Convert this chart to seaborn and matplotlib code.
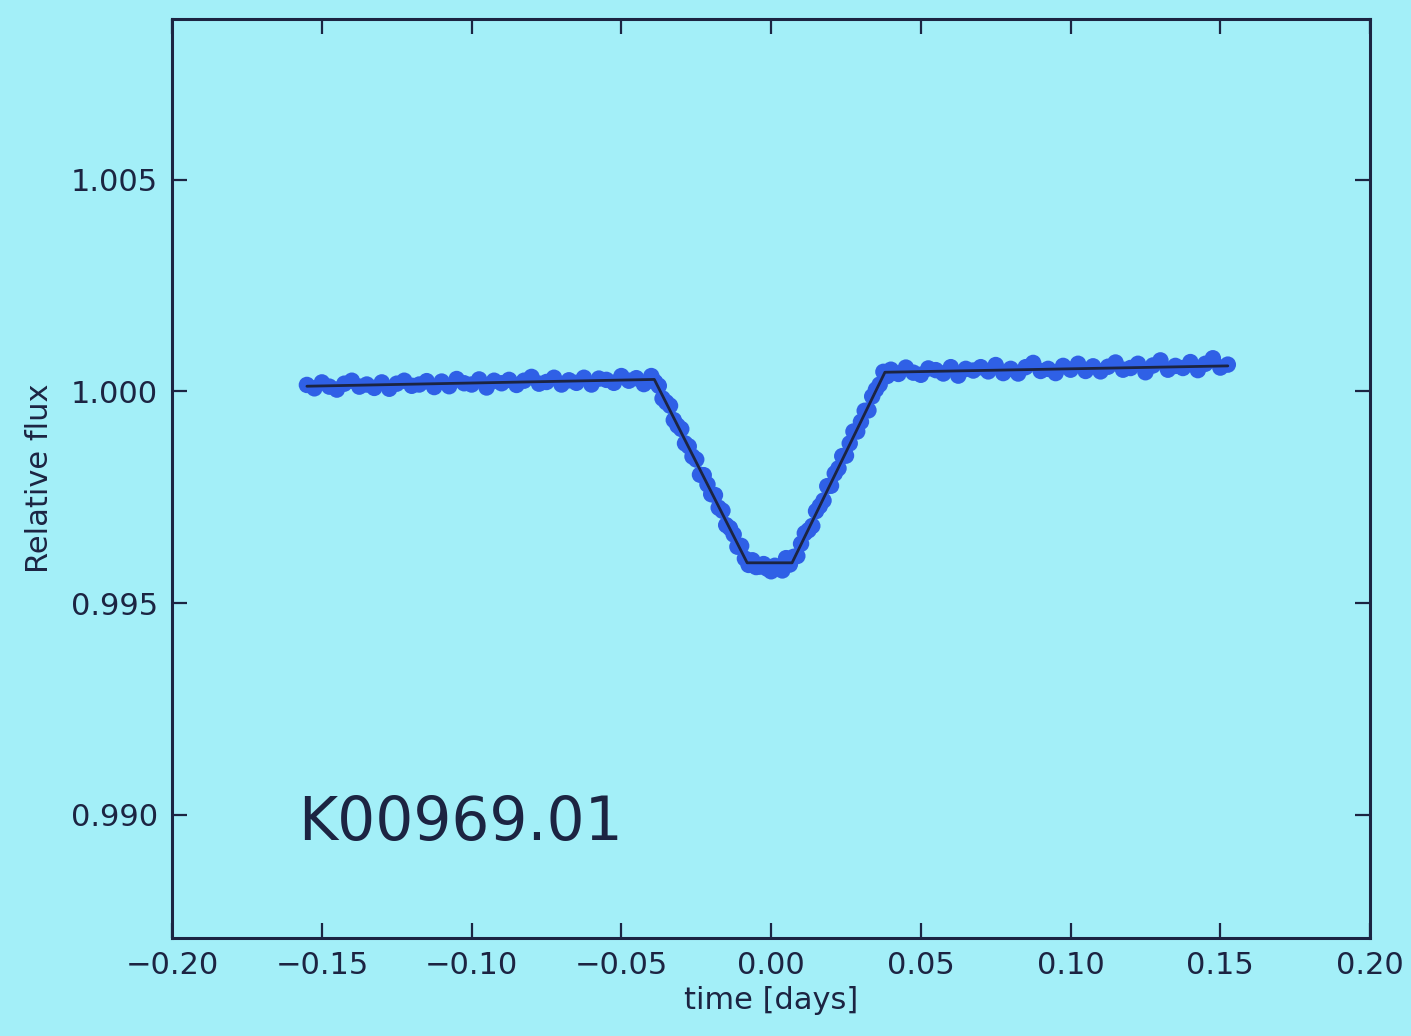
import matplotlib
matplotlib.use("Agg")
import matplotlib.pyplot as plt
import seaborn as sns
import pandas as pd

# ---- data ----
time_pre = [-0.155, -0.1525, -0.15, -0.1475, -0.145, -0.1425, -0.14, -0.1375, -0.135, -0.1325,
            -0.13, -0.1275, -0.125, -0.1225, -0.12, -0.1175, -0.115, -0.1125, -0.11, -0.1075,
            -0.105, -0.1025, -0.1, -0.0975, -0.095, -0.0925, -0.09, -0.0875, -0.085, -0.0825,
            -0.08, -0.0775, -0.075, -0.0725, -0.07, -0.0675, -0.065, -0.0625, -0.06, -0.0575,
            -0.055, -0.0525, -0.05, -0.0475, -0.045, -0.0425]
flux_pre = [1.00015, 1.00007, 1.00021, 1.00011, 1.00004, 1.00018, 1.00025, 1.00011, 1.00016, 1.00008,
            1.00021, 1.00006, 1.00018, 1.00025, 1.00013, 1.00016, 1.00024, 1.00010, 1.00023, 1.00012,
            1.00029, 1.00019, 1.00016, 1.00028, 1.00009, 1.00025, 1.00019, 1.00027, 1.00015, 1.00025,
            1.00034, 1.00018, 1.00022, 1.00032, 1.00016, 1.00026, 1.00020, 1.00032, 1.00016, 1.00030,
            1.00027, 1.00020, 1.00036, 1.00025, 1.00031, 1.00017]

time_transit = [-0.04, -0.03875, -0.0375, -0.03625, -0.035, -0.03375, -0.0325, -0.03125, -0.03, -0.02875,
                -0.0275, -0.02625, -0.025, -0.02375, -0.0225, -0.02125, -0.02, -0.01875, -0.0175, -0.01625,
                -0.015, -0.01375, -0.0125, -0.01125, -0.01, -0.00875, -0.0075, -0.00625, -0.005, -0.00375,
                -0.0025, -0.00125, 0.0, 0.00125, 0.0025, 0.00375, 0.005, 0.00625, 0.0075, 0.00875,
                0.01, 0.01125, 0.0125, 0.01375, 0.015, 0.01625, 0.0175, 0.01875, 0.02, 0.02125,
                0.0225, 0.02375, 0.025, 0.02625, 0.0275, 0.02875, 0.03, 0.03125, 0.0325, 0.03375,
                0.035, 0.03625, 0.0375, 0.03875, 0.04]
flux_transit = [1.00036, 1.00022, 1.00013, 0.99983, 0.99974, 0.99966, 0.99932, 0.99919, 0.99911, 0.99877,
                0.99870, 0.99846, 0.99839, 0.99803, 0.99802, 0.99780, 0.99757, 0.99755, 0.99725, 0.99718,
                0.99684, 0.99677, 0.99662, 0.99633, 0.99635, 0.99605, 0.99590, 0.99601, 0.99585, 0.99586,
                0.99592, 0.99581, 0.99575, 0.99588, 0.99584, 0.99577, 0.99606, 0.99591, 0.99609, 0.99611,
                0.99640, 0.99665, 0.99672, 0.99682, 0.99717, 0.99729, 0.99742, 0.99776, 0.99777, 0.99806,
                0.99818, 0.99847, 0.99848, 0.99877, 0.99905, 0.99905, 0.99928, 0.99954, 0.99955, 0.99988,
                1.00004, 1.00016, 1.00046, 1.00036, 1.00051]

time_post = [0.0425, 0.045, 0.0475, 0.05, 0.0525, 0.055, 0.0575, 0.06, 0.0625, 0.065,
             0.0675, 0.07, 0.0725, 0.075, 0.0775, 0.08, 0.0825, 0.085, 0.0875, 0.09,
             0.0925, 0.095, 0.0975, 0.1, 0.1025, 0.105, 0.1075, 0.11, 0.1125, 0.115,
             0.1175, 0.12, 0.1225, 0.125, 0.1275, 0.13, 0.1325, 0.135, 0.1375, 0.14,
             0.1425, 0.145, 0.1475, 0.15, 0.1525]
flux_post = [1.00041, 1.00056, 1.00044, 1.00039, 1.00054, 1.00050, 1.00042, 1.00057, 1.00037, 1.00053,
             1.00049, 1.00057, 1.00047, 1.00062, 1.00043, 1.00053, 1.00042, 1.00057, 1.00067, 1.00048,
             1.00053, 1.00043, 1.00060, 1.00051, 1.00065, 1.00048, 1.00059, 1.00047, 1.00058, 1.00068,
             1.00051, 1.00055, 1.00065, 1.00045, 1.00061, 1.00073, 1.00051, 1.00060, 1.00055, 1.00069,
             1.00050, 1.00065, 1.00078, 1.00056, 1.00063]

model_time = [-0.155, -0.039, -0.008, 0.007, 0.038, 0.1525]
model_flux = [1.00012, 1.00028, 0.99595, 0.99595, 1.00045, 1.00060]

xticks = [-0.20, -0.15, -0.10, -0.05, 0.00, 0.05, 0.10, 0.15, 0.20]
yticks = [0.990, 0.995, 1.000, 1.005]
label_text = "K00969.01"

# ---- style ----
BG = "#a3eff8"
INK = "#1c2442"
BLUE = "#2f60e6"

sns.set_theme(style="ticks")
plt.rcParams["font.family"] = ["DejaVu Sans"]
plt.rcParams.update({
    "figure.facecolor": BG,
    "axes.facecolor": BG,
    "axes.edgecolor": INK,
    "axes.labelcolor": INK,
    "xtick.color": INK,
    "ytick.color": INK,
    "text.color": INK,
})

data = pd.DataFrame({
    "time": time_pre + time_transit + time_post,
    "flux": flux_pre + flux_transit + flux_post,
})
model = pd.DataFrame({"time": model_time, "flux": model_flux})

fig = plt.figure(figsize=(14.11, 10.36), dpi=100)
ax = fig.add_axes([0.122, 0.095, 0.849, 0.887])

sns.scatterplot(data=data, x="time", y="flux", ax=ax, color=BLUE, s=140,
                linewidth=0, edgecolor="none", zorder=2)
sns.lineplot(data=model, x="time", y="flux", ax=ax, color=INK, linewidth=2.0,
             sort=False, estimator=None, zorder=3)

ax.set_xlim(-0.20, 0.20)
ax.set_ylim(0.9871, 1.0088)
ax.set_xticks(xticks)
ax.set_yticks(yticks)
ax.set_xticklabels([f"{v:.2f}".replace("-", "\u2212") for v in xticks])
ax.set_yticklabels([f"{v:.3f}" for v in yticks])
ax.tick_params(axis="both", which="major", direction="in", length=11, width=1.6,
               top=True, right=True, labelsize=22, pad=10)
for sp in ax.spines.values():
    sp.set_linewidth(2.2)
    sp.set_visible(True)

ax.set_xlabel("time [days]", fontsize=22, labelpad=4)
ax.set_ylabel("Relative flux", fontsize=22, labelpad=12)

ax.text(-0.158, 0.9894, label_text, fontsize=43, color=INK, va="baseline", ha="left")

fig.savefig("out.png", dpi=100, facecolor=BG)
